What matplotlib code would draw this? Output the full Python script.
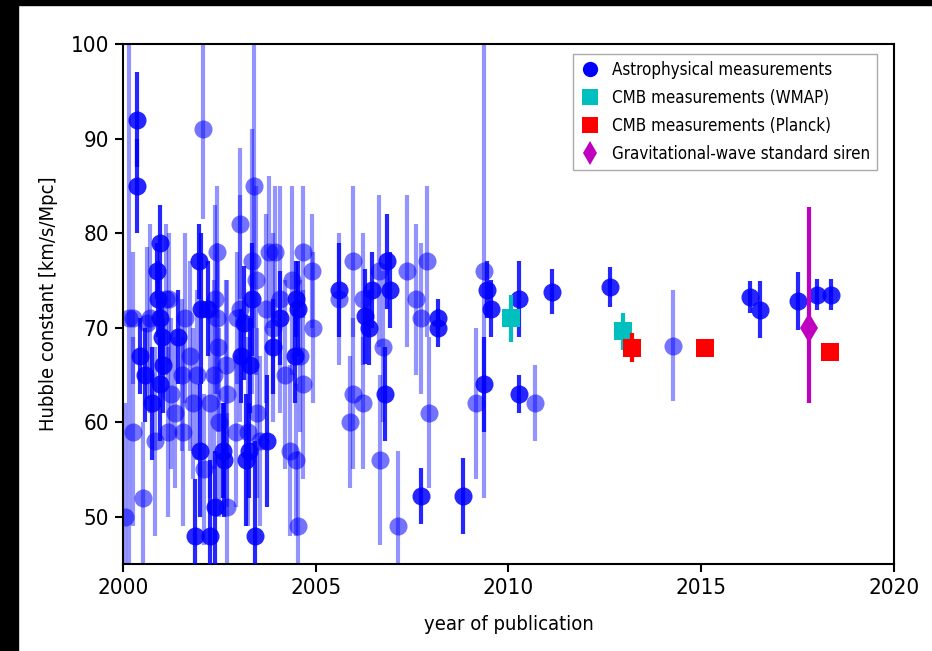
import matplotlib
matplotlib.use("Agg")
import matplotlib.pyplot as plt
from matplotlib.lines import Line2D
from matplotlib.patches import Rectangle

plt.rcParams['font.family'] = ['DejaVu Sans']
plt.rcParams['font.stretch'] = 'condensed'

# astrophysical measurements, tighter errors (drawn opaque)
solid_year = [2000.36, 2000.36, 2000.44, 2000.57, 2000.74, 2000.88, 2000.92, 2000.96,
              2000.97, 2000.96, 2001.04, 2001.0, 2001.43, 2001.87, 2001.97, 2002.0,
              2002.02, 2002.2, 2002.26, 2002.39, 2002.6, 2002.62, 2003.14, 2003.05,
              2003.18, 2003.26, 2003.3, 2003.35, 2003.42, 2003.73, 2003.9, 2004.07,
              2004.46, 2004.5, 2004.55, 2005.61, 2006.27, 2006.39, 2006.45, 2006.8,
              2006.86, 2006.94, 2007.72, 2008.18, 2008.18, 2008.83, 2009.37, 2009.45,
              2009.55, 2010.28, 2010.28, 2011.12, 2012.63, 2016.28, 2016.52, 2017.52,
              2018.01, 2018.36]
solid_h = [92, 85, 67, 65, 62, 76, 73, 79,
           71, 64, 66, 69, 69, 48, 77, 57,
           72, 72, 48, 51, 57, 56, 70.5, 67,
           56, 57, 66, 73, 48, 58, 68, 71,
           67, 73, 72, 74, 71.2, 70, 74, 63,
           77, 74, 52.2, 71, 70, 52.2, 64, 74,
           72, 63, 73, 73.8, 74.3, 73.2, 71.9, 72.8,
           73.5, 73.5]
solid_err = [5, 5, 4, 5, 6, 3, 4, 4,
             5, 6, 5, 4, 5, 6, 4, 7,
             8, 5, 8, 6, 5, 6, 6, 5,
             7, 5, 5, 6, 10, 7, 5, 5,
             5, 4, 5, 5, 5, 4, 4, 5,
             5, 4, 3, 2, 2, 4, 5, 3,
             3, 2, 4, 2.4, 2.1, 1.7, 3, 3.1,
             1.6, 1.6]

# astrophysical measurements, looser errors (drawn translucent)
light_year = [2000.05, 2000.16, 2000.26, 2000.27, 2000.52, 2000.62, 2000.7, 2000.83,
              2001.12, 2001.18, 2001.2, 2001.25, 2001.35, 2001.52, 2001.56, 2001.6,
              2001.74, 2001.82, 2001.91, 2002.08, 2002.1, 2002.26, 2002.36, 2002.39,
              2002.44, 2002.44, 2002.47, 2002.5, 2002.69, 2002.67, 2002.7, 2002.93,
              2002.95, 2003.03, 2003.03, 2003.25, 2003.35, 2003.4, 2003.45, 2003.48,
              2003.55, 2003.7, 2003.8, 2003.9, 2003.94, 2004.07, 2004.2, 2004.33,
              2004.38, 2004.5, 2004.55, 2004.6, 2004.68, 2004.68, 2004.92, 2004.91,
              2005.6, 2005.89, 2005.96, 2005.97, 2006.23, 2006.23, 2006.65, 2006.75,
              2006.67, 2007.13, 2007.36, 2007.6, 2007.72, 2007.9, 2007.95, 2009.17,
              2009.37, 2010.7, 2014.28]
light_h = [50, 71, 59, 71, 52, 70.5, 71, 58,
           73, 59, 73, 63, 61, 65, 59, 71,
           67, 62, 65, 91, 55, 62, 65, 73,
           78, 71, 68, 60, 51, 66, 63, 59,
           71, 81, 72, 59, 77, 85, 75, 61,
           58, 72, 78, 70, 78, 73, 65, 57,
           75, 56, 49, 67, 78, 64, 70, 76,
           73, 60, 77, 63, 62, 73, 76, 68,
           56, 49, 76, 73, 71, 77, 61, 62,
           76, 62, 68.1]
light_err = [12, 30, 10, 7, 8, 8, 10, 10,
             8, 9, 7, 8, 8, 8, 10, 9,
             10, 8, 9, 9.5, 8, 10, 10, 10,
             7, 8, 9, 10, 10, 9, 12, 8,
             7, 8, 12, 10, 14, 15, 10, 9,
             9, 10, 8, 10, 7, 12, 10, 9,
             10, 8, 8, 8, 7, 10, 8, 6,
             7, 7, 8, 8, 7, 7, 8, 8,
             9, 8, 8, 8, 8, 8, 8, 8,
             24, 4, 5.9]

wmap_year = [2010.08, 2012.98]
wmap_h = [71.0, 69.6]
wmap_err = [2.5, 2.0]

planck_year = [2013.22, 2015.1, 2018.35]
planck_h = [67.9, 67.8, 67.4]
planck_err = [1.5, 0.9, 0.5]

gw_year = [2017.8]
gw_h = [70.0]
gw_err_lo = [8.0]
gw_err_hi = [12.8]

fig = plt.figure(figsize=(9.32, 6.51), dpi=100)
ax = fig.add_axes([0.132, 0.1336, 0.827, 0.7988])

# translucent points: bars a little fainter than the dots
ax.errorbar(light_year, light_h, yerr=light_err, fmt='none', ecolor='blue',
            elinewidth=3, capsize=0, alpha=0.42, zorder=2)
ax.plot(light_year, light_h, 'o', color='blue', ms=13, mew=0, alpha=0.55, zorder=2)
ax.errorbar(solid_year, solid_h, yerr=solid_err, fmt='o', color='blue', ms=13,
            elinewidth=3, capsize=0, alpha=0.85, mew=0, zorder=3)
ax.errorbar(wmap_year, wmap_h, yerr=wmap_err, fmt='s', color='c', ms=13,
            elinewidth=3, capsize=0, mew=0, zorder=4)
ax.errorbar(planck_year, planck_h, yerr=planck_err, fmt='s', color='red', ms=13,
            elinewidth=3, capsize=0, mew=0, zorder=5)
ax.errorbar(gw_year, gw_h, yerr=[gw_err_lo, gw_err_hi], fmt='d', color='m', ms=15,
            elinewidth=3, capsize=0, mew=0, zorder=6)

ax.set_xlim(2000, 2020)
ax.set_ylim(45, 100)
ax.set_xticks([2000, 2005, 2010, 2015, 2020])
ax.set_yticks([50, 60, 70, 80, 90, 100])
ax.tick_params(direction='out', length=6, width=1.5, labelsize=16, pad=4)
for s in ax.spines.values():
    s.set_linewidth(1.5)

ax.set_xlabel('year of publication', fontsize=14.5, labelpad=12)
ax.set_ylabel('Hubble constant [km/s/Mpc]', fontsize=14.5, labelpad=9)

handles = [
    Line2D([], [], ls='none', marker='o', color='blue', ms=11, mew=0),
    Line2D([], [], ls='none', marker='s', color='c', ms=11, mew=0),
    Line2D([], [], ls='none', marker='s', color='red', ms=11, mew=0),
    Line2D([], [], ls='none', marker='d', color='m', ms=12, mew=0),
]
labels = ['Astrophysical measurements', 'CMB measurements (WMAP)',
          'CMB measurements (Planck)', 'Gravitational-wave standard siren']
ax.legend(handles, labels, loc='upper right', bbox_to_anchor=(0.978, 0.981),
          borderaxespad=0, fontsize=12.2, fancybox=False, edgecolor='#aaaaaa',
          framealpha=1, handletextpad=0.7, handlelength=1.2, labelspacing=0.6)

# dark frame along the top and left edges
fig.patches.append(Rectangle((0, 0.992), 1, 0.008, transform=fig.transFigure,
                             color='black', zorder=10))
fig.patches.append(Rectangle((0, 0), 0.019, 1, transform=fig.transFigure,
                             color='black', zorder=10))

fig.savefig('out.png', dpi=100)
